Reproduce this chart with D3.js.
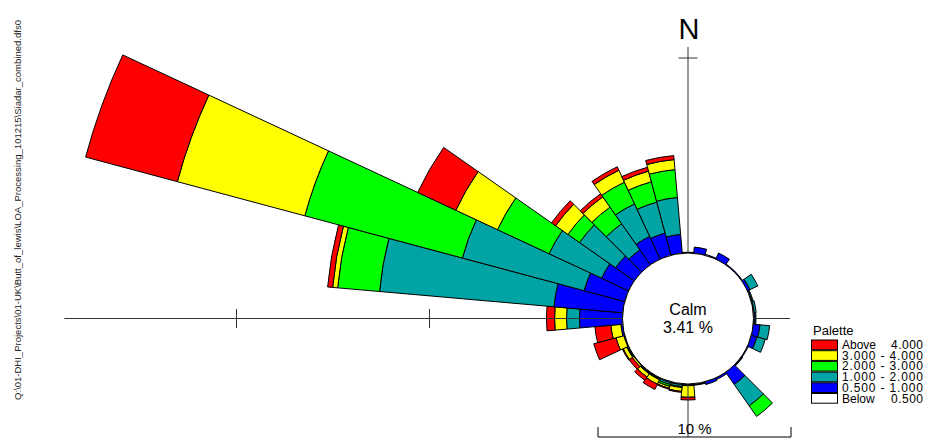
<!DOCTYPE html>
<html>
<head>
<meta charset="utf-8">
<script src="https://cdn.jsdelivr.net/npm/d3@7"></script>
<style>
  body { margin: 0; background: #fff; }
  svg text { font-family: "Liberation Sans", Arial, sans-serif; }
</style>
</head>
<body>
<div id="chart"></div>
<script>
// direction sectors (centre bearing, degrees) and % occurrence per speed class
var directions = [0, 10, 20, 30, 40, 50, 60, 70, 80, 90, 100, 110, 120, 130, 140, 150, 160, 170,
  180, 190, 200, 210, 220, 230, 240, 250, 260, 270, 280, 290, 300, 310, 320, 330, 340, 350];
var blueVals   = [0.04, 0.32, 0.05, 0.35, 0.05, 0.05, 0.15, 0.05, 0.05, 0.08, 0.35, 0.30, 0.05, 0.05, 0.78, 0.10, 0.15, 0.05,
  0.03, 0.05, 0.05, 0.05, 0.05, 0.03, 0.05, 0.05, 0.10, 2.23, 3.58, 2.18, 1.55, 1.19, 0.95, 1.30, 1.19, 0.98];
var tealVals   = [0, 0, 0, 0, 0, 0, 0.45, 0.05, 0.10, 0.05, 0.50, 0.45, 0, 0.03, 1.35, 0, 0, 0.03,
  0.03, 0.10, 0.10, 0.03, 0.03, 0, 0.03, 0, 0, 0.67, 9.07, 6.53, 3.00, 2.28, 1.65, 1.86, 1.66, 1.92];
var greenVals  = [0, 0, 0, 0, 0, 0, 0, 0, 0, 0, 0, 0, 0, 0, 0.67, 0, 0, 0,
  0.03, 0.05, 0.10, 0.03, 0.03, 0, 0.03, 0, 0, 0, 2.18, 8.45, 2.95, 0.73, 1.05, 1.24, 1.09, 1.45];
var yellowVals = [0, 0, 0, 0, 0, 0, 0, 0, 0, 0, 0, 0, 0, 0, 0, 0, 0, 0,
  0.60, 0.20, 0.10, 0.25, 0.20, 0.10, 0.20, 0.42, 0.52, 0.62, 0.26, 6.84, 2.38, 0.78, 0.65, 0.68, 0.57, 0.52];
var redVals    = [0, 0, 0, 0, 0, 0, 0, 0, 0, 0, 0, 0, 0, 0, 0, 0, 0, 0,
  0.14, 0.05, 0.05, 0.30, 0.20, 0.20, 0.05, 1.19, 0.83, 0.42, 0.26, 4.92, 2.18, 0.26, 0.20, 0.20, 0.21, 0.21];
var calmPct = 3.41;

var classLabels = ["Above", "3.000 - 4.000", "2.000 - 3.000", "1.000 - 2.000", "0.500 - 1.000", "Below"];
var classValues = ["4.000", "", "", "", "", "0.500"];
var classColors = ["#FF0000", "#FFFF00", "#00FF00", "#00A4A4", "#0000FF", "#FFFFFF"];

var scaleTicks = [10, 20];
var scaleBarPct = 10;
var filePath = "Q:\\01-DHI_Projects\\01-UK\\Butt_of_lewis\\LOA_Processing_101215\\Siadar_combined.dfs0";

var svgwidth = 929;
var svgheight = 441;
var cx = 688;
var cy = 318.5;

var svg = d3.select("#chart").append("svg")
  .attr("width", svgwidth)
  .attr("height", svgheight);

// radius: calm circle edge is 0 %
var rScale = d3.scaleLinear().domain([0, 10]).range([65.5, 258.5]);

// stacking order from the centre: blue, teal, green, yellow, red
var series = [blueVals, tealVals, greenVals, yellowVals, redVals];
var seriesColors = ["#0000FF", "#00A4A4", "#00FF00", "#FFFF00", "#FF0000"];

var segs = [];
directions.forEach(function (dir, i) {
  var cum = 0;
  series.forEach(function (vals, k) {
    var v = vals[i];
    if (v > 0) {
      segs.push({ dir: dir, from: cum, to: cum + v, color: seriesColors[k] });
    }
    cum += v;
  });
});

var rad = Math.PI / 180;
var arc = d3.arc()
  .innerRadius(function (d) { return rScale(d.from); })
  .outerRadius(function (d) { return rScale(d.to); })
  .startAngle(function (d) { return (d.dir - 5) * rad; })
  .endAngle(function (d) { return (d.dir + 5) * rad; });

var rose = svg.append("g").attr("transform", "translate(" + cx + "," + cy + ")");

rose.selectAll("path.seg")
  .data(segs)
  .join("path")
  .attr("class", "seg")
  .attr("d", arc)
  .attr("fill", function (d) { return d.color; })
  .attr("stroke", "#000")
  .attr("stroke-width", 1)
  .attr("stroke-linejoin", "miter");

// axes
var axisG = svg.append("g").attr("stroke", "#333").attr("stroke-width", 1);
var maxTotal = d3.max(directions.map(function (d, i) {
  return d3.sum(series, function (s) { return s[i]; });
}));
axisG.append("line")
  .attr("x1", cx - rScale(maxTotal)).attr("x2", 790)
  .attr("y1", cy).attr("y2", cy);
axisG.append("line")
  .attr("x1", cx).attr("x2", cx)
  .attr("y1", 47).attr("y2", 437);
axisG.selectAll("line.wtick")
  .data(scaleTicks)
  .join("line")
  .attr("class", "wtick")
  .attr("x1", function (d) { return cx - rScale(d); })
  .attr("x2", function (d) { return cx - rScale(d); })
  .attr("y1", cy - 9.5).attr("y2", cy + 9.5);
axisG.append("line")
  .attr("x1", cx - 9.5).attr("x2", cx + 9.5)
  .attr("y1", cy - rScale(scaleTicks[0]) - 2).attr("y2", cy - rScale(scaleTicks[0]) - 2);

// calm circle
svg.append("circle")
  .attr("cx", cx).attr("cy", cy)
  .attr("r", rScale(0))
  .attr("fill", "#fff")
  .attr("stroke", "#000")
  .attr("stroke-width", 1);

svg.append("text")
  .attr("x", cx).attr("y", 315)
  .attr("text-anchor", "middle")
  .style("font-size", "16px")
  .text("Calm");
svg.append("text")
  .attr("x", cx).attr("y", 333)
  .attr("text-anchor", "middle")
  .style("font-size", "16px")
  .text(calmPct.toFixed(2) + " %");

// north label
svg.append("text")
  .attr("x", cx + 1).attr("y", 39)
  .attr("text-anchor", "middle")
  .style("font-size", "29px")
  .text("N");

// scale bar
var barX0 = 598;
var barX1 = barX0 + (rScale(scaleBarPct) - rScale(0));
var barY = 437;
var barG = svg.append("g").attr("stroke", "#000").attr("stroke-width", 1);
barG.append("line").attr("x1", barX0).attr("x2", barX1).attr("y1", barY).attr("y2", barY);
barG.append("line").attr("x1", barX0).attr("x2", barX0).attr("y1", barY - 10).attr("y2", barY);
barG.append("line").attr("x1", barX1).attr("x2", barX1).attr("y1", barY - 10).attr("y2", barY);
svg.append("text")
  .attr("x", (barX0 + barX1) / 2).attr("y", 434)
  .attr("text-anchor", "middle")
  .style("font-size", "15px")
  .text(scaleBarPct + " %");

// file path, rotated
svg.append("text")
  .attr("transform", "translate(21,210) rotate(-90)")
  .attr("text-anchor", "middle")
  .attr("textLength", 380)
  .attr("lengthAdjust", "spacingAndGlyphs")
  .style("font-size", "8.5px")
  .style("fill", "#222")
  .text(filePath);

// legend
var legend = svg.append("g").attr("transform", "translate(811,339.5)");
legend.append("text")
  .attr("x", 2).attr("y", -5)
  .style("font-size", "13px")
  .text("Palette");
var rowH = 10.7;
var rows = legend.selectAll("g.row")
  .data(classLabels)
  .join("g")
  .attr("class", "row")
  .attr("transform", function (d, i) { return "translate(0," + i * rowH + ")"; });
rows.append("rect")
  .attr("x", 0.5).attr("y", 0.5)
  .attr("width", 26).attr("height", rowH - 1)
  .attr("fill", function (d, i) { return classColors[i]; })
  .attr("stroke", "#000")
  .attr("stroke-width", 1);
rows.append("text")
  .attr("x", 31).attr("y", 9.5)
  .style("font-size", "12px")
  .each(function (d, i) {
    if (classValues[i] === "") {
      d3.select(this).attr("textLength", 81).attr("lengthAdjust", "spacing");
    }
  })
  .text(function (d) { return d; });
rows.append("text")
  .attr("x", 112).attr("y", 9.5)
  .attr("text-anchor", "end")
  .attr("textLength", 32)
  .attr("lengthAdjust", "spacing")
  .style("font-size", "12px")
  .text(function (d, i) { return classValues[i]; });
</script>
</body>
</html>
